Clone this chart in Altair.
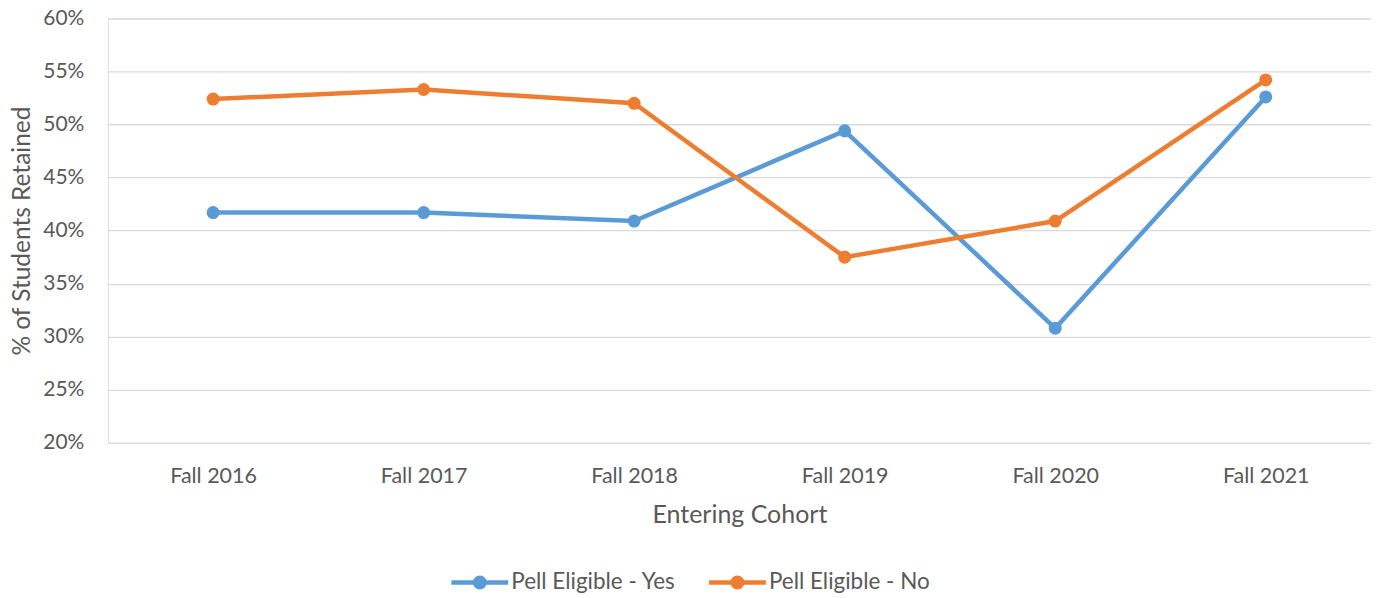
import altair as alt
import pandas as pd

cohorts = ["Fall 2016", "Fall 2017", "Fall 2018", "Fall 2019", "Fall 2020", "Fall 2021"]
pell_yes = [41.7, 41.7, 40.9, 49.4, 30.8, 52.6]
pell_no = [52.4, 53.3, 52.0, 37.5, 40.9, 54.2]
series_names = ["Pell Eligible - Yes", "Pell Eligible - No"]
series_colors = ["#5B9BD5", "#ED7D31"]
y_ticks = [0.20, 0.25, 0.30, 0.35, 0.40, 0.45, 0.50, 0.55, 0.60]

rows = []
for name, vals in zip(series_names, [pell_yes, pell_no]):
    for c, v in zip(cohorts, vals):
        rows.append({"Cohort": c, "Value": v / 100.0, "Series": name})
df = pd.DataFrame(rows)

FONT = "Lato"
GREY = "#595959"

legend_symbol = (
    "M-2,0L2,0"
    "M0.333,0A0.333,0.333,0,1,1,-0.333,0A0.333,0.333,0,1,1,0.333,0"
    "M0.17,0A0.17,0.17,0,1,1,-0.17,0A0.17,0.17,0,1,1,0.17,0"
    "M0.05,0A0.05,0.05,0,1,1,-0.05,0A0.05,0.05,0,1,1,0.05,0"
)

base = alt.Chart(df).encode(
    x=alt.X(
        "Cohort:N",
        sort=cohorts,
        scale=alt.Scale(type="point", padding=0.5),
        axis=alt.Axis(
            title="Entering Cohort",
            labelAngle=0,
            ticks=False,
            domain=False,
            grid=False,
            labelPadding=23,
            titlePadding=15,
            labelFontSize=21.5,
            titleFontSize=25,
            labelColor=GREY,
            titleColor=GREY,
            labelFont=FONT,
            titleFont=FONT,
            titleFontWeight="normal",
        ),
    ),
    y=alt.Y(
        "Value:Q",
        scale=alt.Scale(domain=[0.2, 0.6], nice=False, zero=False),
        axis=alt.Axis(
            title="% of Students Retained",
            format=".0%",
            values=y_ticks,
            ticks=False,
            domain=False,
            grid=True,
            gridColor="#D9D9D9",
            gridWidth=1.3,
            labelPadding=24,
            titlePadding=8,
            labelFontSize=21,
            titleFontSize=24.5,
            labelColor=GREY,
            titleColor=GREY,
            labelFont=FONT,
            titleFont=FONT,
            titleFontWeight="normal",
        ),
    ),
    color=alt.Color(
        "Series:N",
        scale=alt.Scale(domain=series_names, range=series_colors),
        legend=alt.Legend(
            title=None,
            orient="none",
            direction="horizontal",
            legendX=356,
            legendY=548,
            symbolType=legend_symbol,
            symbolSize=812,
            symbolStrokeWidth=4.5,
            labelFontSize=22.5,
            labelFont=FONT,
            labelColor=GREY,
            labelOffset=15,
            columnPadding=24,
            padding=0,
            labelLimit=400,
        ),
    ),
)

lines = base.mark_line(strokeWidth=4.5)
points = base.mark_point(filled=True, size=170, opacity=1)

chart = (
    (lines + points)
    .properties(
        width=1265,
        height=425,
        autosize=alt.AutoSizeParams(type="none"),
        padding={"left": 100, "top": 10, "right": 0, "bottom": 153},
    )
    .configure_view(stroke=None)
    .configure(background="white")
)

chart.save("out.html", embed_options={"renderer": "svg", "actions": False})
